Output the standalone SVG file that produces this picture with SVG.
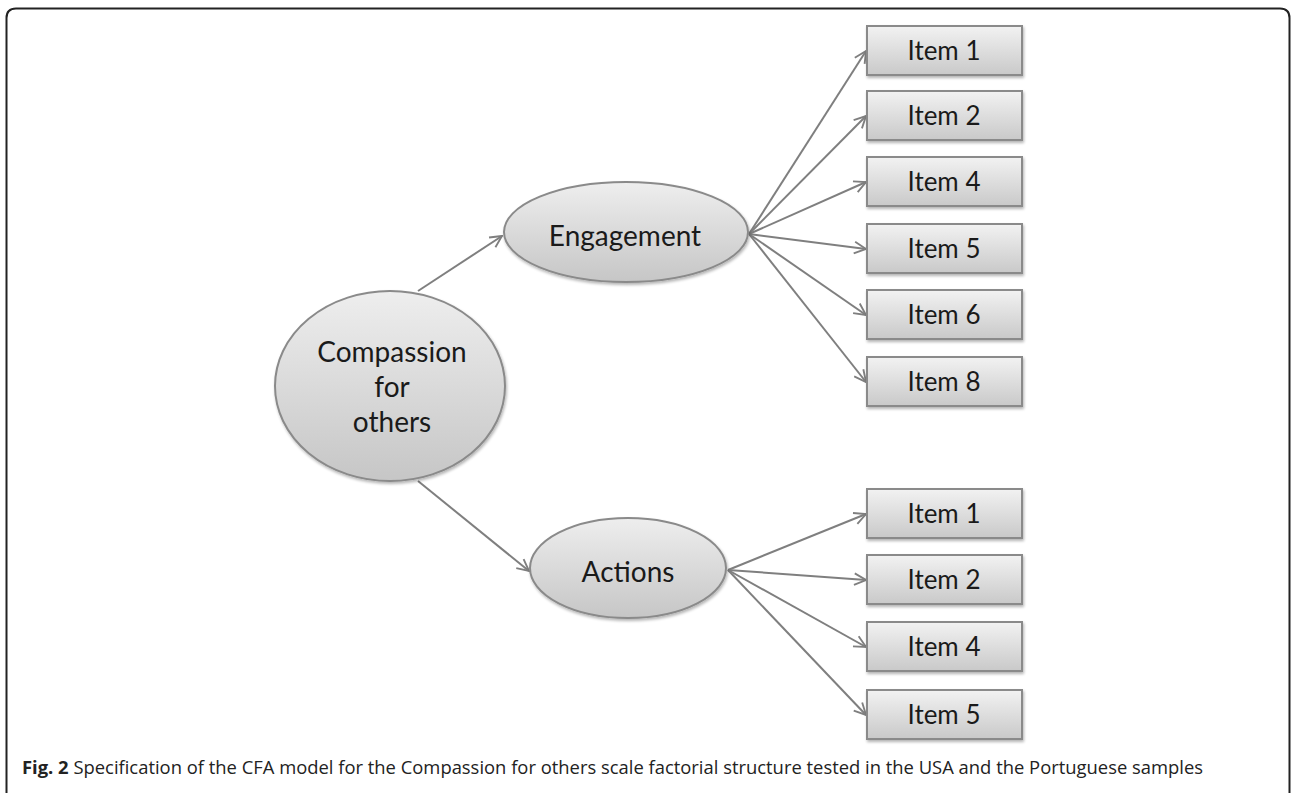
<svg xmlns="http://www.w3.org/2000/svg" width="1292" height="793" viewBox="0 0 1292 793">
<style>
  .box { fill: url(#boxGrad); stroke: #8a8a8a; stroke-width: 2; filter: url(#shadow); }
  .ell { fill: url(#ellGrad); stroke: #8a8a8a; stroke-width: 2; filter: url(#shadow); }
  .lbl { font-family: Lato, "Liberation Sans", sans-serif; fill: #1a1a1a; text-anchor: middle; }
  .item { font-size: 26px; }
  .conn { stroke: #7f7f7f; stroke-width: 2; fill: none; marker-end: url(#arrow); }
  .cap { font-family: "Open Sans", "Liberation Sans", sans-serif; font-size: 18px; fill: #222; }
</style>
<defs>
  <linearGradient id="boxGrad" x1="0" y1="0" x2="0" y2="1">
    <stop offset="0" stop-color="#f2f2f2"/>
    <stop offset="1" stop-color="#c9c9c9"/>
  </linearGradient>
  <linearGradient id="ellGrad" x1="0" y1="0" x2="0" y2="1">
    <stop offset="0" stop-color="#eeeeee"/>
    <stop offset="1" stop-color="#c6c6c6"/>
  </linearGradient>
  <filter id="shadow" x="-10%" y="-10%" width="120%" height="130%">
    <feGaussianBlur in="SourceAlpha" stdDeviation="1.5"/>
    <feOffset dx="1" dy="2" result="b"/>
    <feComponentTransfer><feFuncA type="linear" slope="0.3"/></feComponentTransfer>
    <feMerge><feMergeNode/><feMergeNode in="SourceGraphic"/></feMerge>
  </filter>
  <marker id="arrow" viewBox="0 0 12 12" refX="11" refY="6" markerWidth="7" markerHeight="7" orient="auto" markerUnits="strokeWidth">
    <path d="M1,1 L11,6 L1,11" fill="none" stroke="#7f7f7f" stroke-width="1.6"/>
  </marker>
</defs>

<path d="M6.5,805 L6.5,18 Q6.5,8.5 16,8.5 L1280,8.5 Q1289.5,8.5 1289.5,18 L1289.5,805" fill="none" stroke="#222" stroke-width="2"/>

<g id="connectors">
  <line class="conn" x1="418" y1="291" x2="502" y2="236"/>
  <line class="conn" x1="418" y1="481" x2="529" y2="571"/>
  <line class="conn" x1="749" y1="234" x2="866" y2="51"/>
  <line class="conn" x1="749" y1="234" x2="866" y2="116"/>
  <line class="conn" x1="749" y1="234" x2="866" y2="182"/>
  <line class="conn" x1="749" y1="234" x2="866" y2="249"/>
  <line class="conn" x1="749" y1="234" x2="866" y2="315"/>
  <line class="conn" x1="749" y1="234" x2="866" y2="382"/>
  <line class="conn" x1="728" y1="570" x2="866" y2="514"/>
  <line class="conn" x1="728" y1="570" x2="866" y2="580"/>
  <line class="conn" x1="728" y1="570" x2="866" y2="647"/>
  <line class="conn" x1="728" y1="570" x2="866" y2="715"/>
</g>

<g id="compassion">
  <ellipse class="ell" cx="390" cy="386" rx="115" ry="95"/>
  <text class="lbl" x="392" y="362" font-size="28">Compassion</text>
  <text class="lbl" x="392" y="397" font-size="28">for</text>
  <text class="lbl" x="392" y="432" font-size="28">others</text>
</g>
<g id="engagement">
  <ellipse class="ell" cx="626" cy="232" rx="122" ry="50"/>
  <text class="lbl" x="625" y="246" font-size="28">Engagement</text>
</g>
<g id="actions">
  <ellipse class="ell" cx="628" cy="568" rx="98" ry="50"/>
  <text class="lbl" x="628" y="582" font-size="28">Actions</text>
</g>

<g id="e-item1"><rect class="box" x="867" y="26" width="155" height="49"/><text class="lbl item" x="944" y="60">Item 1</text></g>
<g id="e-item2"><rect class="box" x="867" y="91" width="155" height="49"/><text class="lbl item" x="944" y="125">Item 2</text></g>
<g id="e-item4"><rect class="box" x="867" y="157" width="155" height="49"/><text class="lbl item" x="944" y="191">Item 4</text></g>
<g id="e-item5"><rect class="box" x="867" y="224" width="155" height="49"/><text class="lbl item" x="944" y="258">Item 5</text></g>
<g id="e-item6"><rect class="box" x="867" y="290" width="155" height="49"/><text class="lbl item" x="944" y="324">Item 6</text></g>
<g id="e-item8"><rect class="box" x="867" y="357" width="155" height="49"/><text class="lbl item" x="944" y="391">Item 8</text></g>

<g id="a-item1"><rect class="box" x="867" y="489" width="155" height="49"/><text class="lbl item" x="944" y="523">Item 1</text></g>
<g id="a-item2"><rect class="box" x="867" y="555" width="155" height="49"/><text class="lbl item" x="944" y="589">Item 2</text></g>
<g id="a-item4"><rect class="box" x="867" y="622" width="155" height="49"/><text class="lbl item" x="944" y="656">Item 4</text></g>
<g id="a-item5"><rect class="box" x="867" y="690" width="155" height="49"/><text class="lbl item" x="944" y="724">Item 5</text></g>

<text class="cap" x="22" y="774" textLength="1181" lengthAdjust="spacingAndGlyphs"><tspan font-weight="bold">Fig. 2</tspan> Specification of the CFA model for the Compassion for others scale factorial structure tested in the USA and the Portuguese samples</text>
</svg>
